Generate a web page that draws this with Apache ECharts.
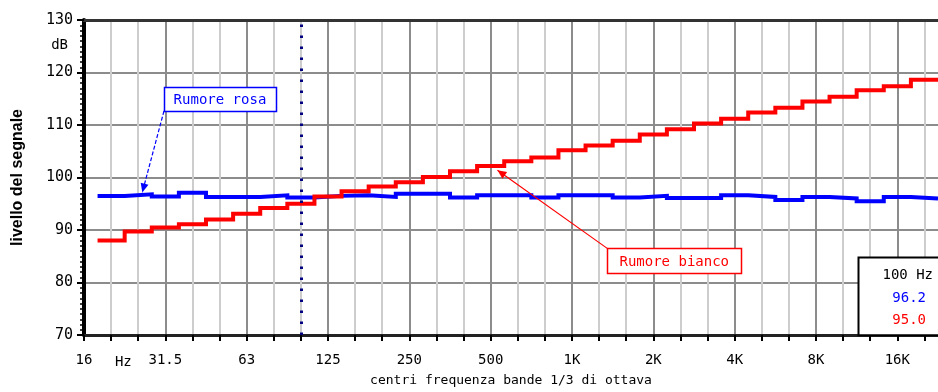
<!DOCTYPE html>
<html>
<head>
<meta charset="utf-8">
<script src="https://cdn.jsdelivr.net/npm/echarts@6/dist/echarts.min.js"></script>
<style>
  html, body { margin: 0; padding: 0; background: #ffffff; }
  #chart { width: 938px; height: 392px; }
</style>
</head>
<body>
<div id="chart"></div>
<script>
// Third-octave band centres (x index 0 = 16 Hz, so the first band, 20 Hz, sits at index 1)
const bandNames = ['20', '25', '31.5', '40', '50', '63', '80', '100', '125', '160',
  '200', '250', '315', '400', '500', '630', '800', '1K', '1.25K', '1.6K',
  '2K', '2.5K', '3.15K', '4K', '5K', '6.3K', '8K', '10K', '12.5K', '16K', '20K'];

// Octave tick labels, one every third band starting at 16 Hz
const octaveLabels = ['16', '31.5', '63', '125', '250', '500', '1K', '2K', '4K', '8K', '16K'];

// Band levels in dB
const pinkNoise = [96.5, 96.8, 96.4, 97.1, 96.3, 96.3, 96.6, 96.2, 96.5, 96.6,
  96.3, 96.9, 96.9, 96.2, 96.6, 96.6, 96.2, 96.6, 96.6, 96.2,
  96.5, 96.1, 96.1, 96.6, 96.3, 95.7, 96.3, 96.0, 95.5, 96.3, 96.0];
const whiteNoise = [88.0, 89.7, 90.5, 91.1, 92.0, 93.1, 94.2, 95.0, 96.4, 97.4,
  98.3, 99.1, 100.1, 101.2, 102.2, 103.1, 103.8, 105.2, 106.1, 107.0,
  108.2, 109.2, 110.3, 111.2, 112.4, 113.3, 114.5, 115.4, 116.6, 117.4, 118.6];

const cursorBand = '100';
const pinkName = 'Rumore rosa';
const whiteName = 'Rumore bianco';

const PINK = '#0000ff';
const WHITE = '#ff0000';
const MONO = 'DejaVu Sans Mono';

// Each band is drawn flat across its own width: from half a band below to half a band above its centre
function stepData(values) {
  const pts = values.map((v, i) => [i + 0.5, v]);
  pts.push([values.length + 0.5, values[values.length - 1]]);
  return pts;
}

const cursorIndex = bandNames.indexOf(cursorBand) + 1;

const chart = echarts.init(document.getElementById('chart'), null, { renderer: 'canvas' });

chart.setOption({
  animation: false,
  backgroundColor: '#ffffff',
  grid: { left: 84, right: 0, top: 20, bottom: 52, containLabel: false },
  xAxis: [{
    type: 'value',
    min: 0,
    max: 31.5,
    interval: 1,
    name: 'centri frequenza bande 1/3 di ottava',
    nameLocation: 'middle',
    nameGap: 39,
    nameTextStyle: { fontFamily: MONO, fontSize: 13, color: '#000' },
    axisLine: { lineStyle: { color: '#222', width: 3 } },
    axisTick: { length: 6, lineStyle: { color: '#000', width: 2 } },
    axisLabel: {
      margin: 18,
      fontFamily: MONO, fontSize: 14, color: '#000',
      showMaxLabel: false,
      formatter: v => (v % 3 === 0 ? (octaveLabels[v / 3] || '') : '')
    },
    splitLine: {
      show: true,
      showMinLine: true,
      showMaxLine: false,
      lineStyle: { color: ['#8c8c8c', '#cdcdcd', '#cdcdcd'], width: 2 }
    }
  }, {
    type: 'value',
    position: 'top',
    min: 0,
    max: 31.5,
    axisLine: { show: true, onZero: false, lineStyle: { color: '#333', width: 3 } },
    axisTick: { show: false },
    axisLabel: { show: false },
    splitLine: { show: false }
  }],
  yAxis: {
    type: 'value',
    min: 70,
    max: 130,
    interval: 10,
    name: 'livello del segnale',
    nameLocation: 'middle',
    nameRotate: 90,
    nameGap: 58,
    nameTextStyle: { fontFamily: 'Liberation Sans', fontWeight: 'bold', fontSize: 16, color: '#000' },
    axisLine: { show: true, lineStyle: { color: '#000', width: 4 } },
    axisTick: { show: true, length: 7, lineStyle: { color: '#000', width: 2 } },
    minorTick: { show: true, splitNumber: 10, length: 4, lineStyle: { color: '#000', width: 1.5 } },
    axisLabel: { margin: 11, fontFamily: MONO, fontSize: 15, color: '#000' },
    splitLine: { show: true, lineStyle: { color: '#8c8c8c', width: 2 } }
  },
  series: [{
    name: pinkName,
    type: 'line',
    step: 'end',
    data: stepData(pinkNoise),
    showSymbol: false,
    symbol: 'none',
    lineStyle: { color: PINK, width: 4, join: 'miter', cap: 'butt' },
    z: 3,
    markLine: {
      silent: true,
      symbol: ['none', 'none'],
      label: { show: false },
      lineStyle: { color: '#000080', type: [2.5, 8.5], width: 3 },
      data: [{ xAxis: cursorIndex }]
    }
  }, {
    name: whiteName,
    type: 'line',
    step: 'end',
    data: stepData(whiteNoise),
    showSymbol: false,
    symbol: 'none',
    lineStyle: { color: WHITE, width: 4, join: 'miter', cap: 'butt' },
    z: 4
  }]
});

// Annotations: call-out boxes with pointers, the cursor read-out and small unit labels
function px(x, y) { return chart.convertToPixel({ xAxisIndex: 0, yAxisIndex: 0 }, [x, y]); }

function arrowHead(tip, from, color, len, half) {
  const dx = tip[0] - from[0], dy = tip[1] - from[1];
  const d = Math.hypot(dx, dy);
  const ux = dx / d, uy = dy / d;
  const bx = tip[0] - ux * len, by = tip[1] - uy * len;
  return {
    type: 'polygon',
    shape: { points: [tip, [bx - uy * half, by + ux * half], [bx + uy * half, by - ux * half]] },
    style: { fill: color },
    z: 20
  };
}

function callout(name, color, boxAt, w, h, corner, tip, dash) {
  const tl = px(boxAt[0], boxAt[1]);
  const start = corner === 'bottom-left' ? [tl[0], tl[1] + h] : [tl[0], tl[1]];
  return [
    {
      type: 'line',
      shape: { x1: start[0], y1: start[1], x2: tip[0], y2: tip[1] },
      style: { stroke: color, lineWidth: 1.2, lineDash: dash || null },
      z: 19
    },
    arrowHead(tip, start, color, 9, 4),
    {
      type: 'rect',
      shape: { x: Math.round(tl[0]) + 0.5, y: Math.round(tl[1]) + 0.5, width: w, height: h },
      style: { fill: '#ffffff', stroke: color, lineWidth: 1.5 },
      z: 21
    },
    {
      type: 'text',
      x: tl[0] + w / 2,
      y: tl[1] + h / 2 + 1,
      style: {
        text: name, fill: color, font: '14px "' + MONO + '"',
        align: 'center', verticalAlign: 'middle'
      },
      z: 22
    }
  ];
}

const pinkTip = px(2.15, pinkNoise[1] + 0.35);
const whiteTip = px(15.25, whiteNoise[14] - 0.8);
const readTL = px(28.55, 84.8);
const readBottom = px(28.55, 70)[1];
const hzPos = px(1.45, 70);
const dbPos = px(0, 125.1);

const graphics = []
  .concat(callout(pinkName, PINK, [2.95, 117.25], 112, 24, 'bottom-left', pinkTip, [4, 2]))
  .concat(callout(whiteName, WHITE, [19.3, 86.5], 134, 25, 'top-left', whiteTip, null))
  .concat([
    {
      type: 'rect',
      shape: { x: Math.round(readTL[0]) + 0.5, y: Math.round(readTL[1]) + 0.5, width: 100, height: readBottom - readTL[1] },
      style: { fill: '#ffffff', stroke: '#000', lineWidth: 2 },
      z: 21
    },
    {
      type: 'text', x: readTL[0] + 75, y: readTL[1] + 18,
      style: { text: cursorBand + ' Hz', fill: '#000', font: '14px "' + MONO + '"', align: 'right', verticalAlign: 'middle' },
      z: 22
    },
    {
      type: 'text', x: readTL[0] + 68, y: readTL[1] + 41,
      style: { text: pinkNoise[cursorIndex - 1].toFixed(1), fill: PINK, font: '14px "' + MONO + '"', align: 'right', verticalAlign: 'middle' },
      z: 22
    },
    {
      type: 'text', x: readTL[0] + 68, y: readTL[1] + 63,
      style: { text: whiteNoise[cursorIndex - 1].toFixed(1), fill: WHITE, font: '14px "' + MONO + '"', align: 'right', verticalAlign: 'middle' },
      z: 22
    },
    {
      type: 'text', x: hzPos[0], y: hzPos[1] + 27,
      style: { text: 'Hz', fill: '#000', font: '14px "' + MONO + '"', align: 'center', verticalAlign: 'middle' },
      z: 22
    },
    {
      type: 'text', x: dbPos[0] - 16, y: dbPos[1],
      style: { text: 'dB', fill: '#000', font: '14px "' + MONO + '"', align: 'right', verticalAlign: 'middle' },
      z: 22
    }
  ]);

chart.setOption({ graphic: graphics });
</script>
</body>
</html>
